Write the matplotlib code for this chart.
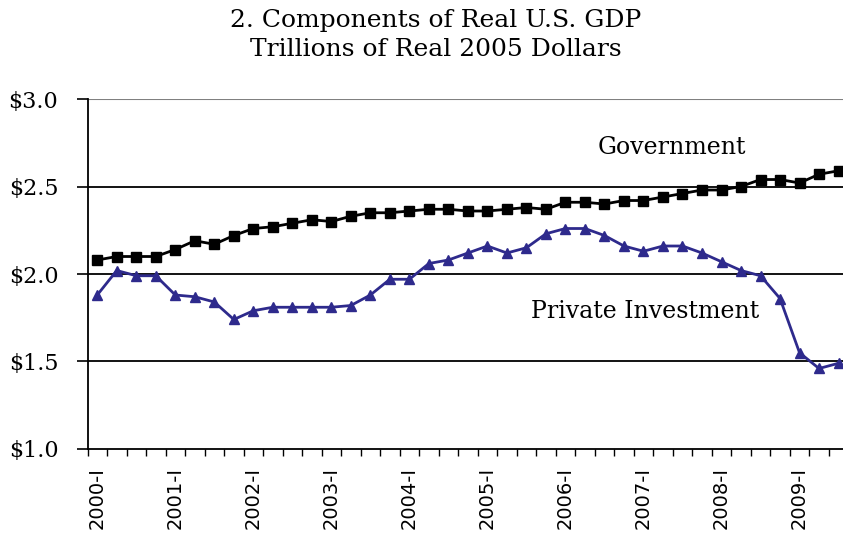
import numpy as np
import matplotlib.pyplot as plt
from matplotlib.ticker import FixedLocator

quarters = [f"{y}-{q}" for y in range(2000, 2010) for q in ["I", "II", "III", "IV"]][:39]
government = [2.08, 2.10, 2.10, 2.10, 2.14, 2.19, 2.17, 2.22, 2.26, 2.27,
              2.29, 2.31, 2.30, 2.33, 2.35, 2.35, 2.36, 2.37, 2.37, 2.36,
              2.36, 2.37, 2.38, 2.37, 2.41, 2.41, 2.40, 2.42, 2.42, 2.44,
              2.46, 2.48, 2.48, 2.50, 2.54, 2.54, 2.52, 2.57, 2.59]
private_inv = [1.88, 2.02, 1.99, 1.99, 1.88, 1.87, 1.84, 1.74, 1.79, 1.81,
               1.81, 1.81, 1.81, 1.82, 1.88, 1.97, 1.97, 2.06, 2.08, 2.12,
               2.16, 2.12, 2.15, 2.23, 2.26, 2.26, 2.22, 2.16, 2.13, 2.16,
               2.16, 2.12, 2.07, 2.02, 1.99, 1.86, 1.55, 1.46, 1.49]
y_ticks = [1.0, 1.5, 2.0, 2.5, 3.0]

serif = "DejaVu Serif"

fig = plt.figure(figsize=(8.43, 5.37), dpi=100)
ax = fig.add_axes([0.1038, 0.1639, 0.9025, 0.6517])

x = np.arange(len(quarters))
ax.plot(x, government, color="black", marker="s", markersize=7, linewidth=2)
ax.plot(x, private_inv, color="#2e2a8c", marker="^", markersize=7, linewidth=2)

ax.set_xlim(-0.5, len(quarters) - 0.5)
ax.set_ylim(1.0, 3.0)

# horizontal gridlines, top one is lighter
for v in y_ticks[1:-1]:
    ax.axhline(v, color="black", linewidth=1.3, zorder=0)
ax.axhline(y_ticks[-1], color="#808080", linewidth=1.5, zorder=0)

ax.set_yticks(y_ticks)
ax.set_yticklabels([f"${v:.1f}" for v in y_ticks], fontfamily=serif, fontsize=16)
ax.tick_params(axis="y", length=8, width=1.2, pad=13)

major = x[::4]
ax.set_xticks(major)
ax.set_xticklabels([quarters[i] for i in major], rotation=90, fontsize=14)
ax.xaxis.set_minor_locator(FixedLocator(np.arange(-0.5, len(quarters), 1)))
ax.tick_params(axis="x", which="major", length=0, pad=13)
ax.tick_params(axis="x", which="minor", length=5, width=1)

for s in ["top", "right"]:
    ax.spines[s].set_visible(False)
ax.spines["left"].set_linewidth(1.3)
ax.spines["bottom"].set_linewidth(1.3)

fig.text(672 / 843, 1 - 148 / 537, "Government", fontfamily=serif,
         fontsize=17, ha="center", va="center")
fig.text(645 / 843, 1 - 312 / 537, "Private Investment", fontfamily=serif,
         fontsize=17, ha="center", va="center")
fig.text(436 / 843, 1 - 20 / 537, "2. Components of Real U.S. GDP",
         fontfamily=serif, fontsize=18, ha="center", va="center")
fig.text(436 / 843, 1 - 49 / 537, "Trillions of Real 2005 Dollars",
         fontfamily=serif, fontsize=18, ha="center", va="center")

fig.savefig("out.png", dpi=100)
